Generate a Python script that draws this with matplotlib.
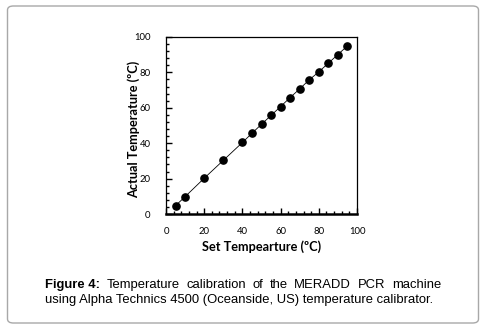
import matplotlib
matplotlib.use('Agg')
import matplotlib.pyplot as plt
from matplotlib.patches import FancyBboxPatch
from matplotlib.ticker import MultipleLocator

# data
set_temp = [5, 10, 20, 30, 40, 45, 50, 55, 60, 65, 70, 75, 80, 85, 90, 95]
actual_temp = [4.7, 9.8, 20.2, 30.3, 40.4, 45.6, 50.7, 55.7, 60.7, 65.8, 70.7, 75.8, 80.3, 85.2, 90.1, 95.0]

caption_1 = ['Figure 4:', 'Temperature', 'calibration', 'of', 'the', 'MERADD', 'PCR', 'machine']
caption_2 = 'using Alpha Technics 4500 (Oceanside, US) temperature calibrator.'

fig = plt.figure(figsize=(4.9, 3.36), dpi=100)

# rounded frame around the whole figure
box = FancyBboxPatch((7.5 / 490, 1 - 323 / 336), 471 / 490, 317 / 336,
                     boxstyle="round,pad=0,rounding_size=0.012",
                     transform=fig.transFigure, facecolor='none',
                     edgecolor='#a8a8a8', linewidth=1.0, zorder=-1)
fig.patches.append(box)

ax = fig.add_axes([166 / 490, 1 - 214 / 336, 191 / 490, 177 / 336])
ax.plot(set_temp, actual_temp, color='black', linewidth=0.6,
        marker='o', markersize=5.2, markerfacecolor='black', markeredgecolor='black')

ax.set_xlim(0, 100)
ax.set_ylim(0, 100)
ax.xaxis.set_major_locator(MultipleLocator(20))
ax.yaxis.set_major_locator(MultipleLocator(20))
ax.xaxis.set_minor_locator(MultipleLocator(4))
ax.yaxis.set_minor_locator(MultipleLocator(4))
ax.tick_params(which='both', direction='in', top=False, right=False,
               width=1.0, labelsize=6.8, colors='black')
ax.tick_params(axis='x', which='major', pad=9.5)
ax.tick_params(axis='y', which='major', pad=11)
ax.tick_params(which='major', length=4)
ax.tick_params(which='minor', length=2.5)
for s in ['top', 'right', 'left']:
    ax.spines[s].set_linewidth(0.9)
ax.spines['bottom'].set_linewidth(1.8)

ax.set_xlabel('Set Tempearture (ºC)', fontsize=9.2, fontweight='bold',
              family='Lato', labelpad=3)
ax.set_ylabel('Actual Temperature (ºC)', fontsize=9.2, fontweight='bold',
              family='Lato')
ax.yaxis.set_label_coords(-26 / 191, 0.48)
for lab in ax.get_xticklabels() + ax.get_yticklabels():
    lab.set_family('Lato')

# caption, first line justified between x=45 and x=441
y1 = 1 - 285 / 336
renderer = fig.canvas.get_renderer()
words = []
for i, w in enumerate(caption_1):
    t = fig.text(0, y1, w, fontsize=9.4, family='Liberation Sans',
                 fontweight='bold' if i == 0 else 'normal', va='center', ha='left')
    words.append(t)
widths = [t.get_window_extent(renderer).width for t in words]
gap = (441 - 45 - sum(widths)) / (len(words) - 1)
x = 45
for t, wd in zip(words, widths):
    t.set_x(x / 490)
    x += wd + gap

fig.text(45 / 490, 1 - 300 / 336, caption_2,
         fontsize=9.4, family='Liberation Sans', va='center', ha='left')

fig.savefig('out.png', dpi=100)
